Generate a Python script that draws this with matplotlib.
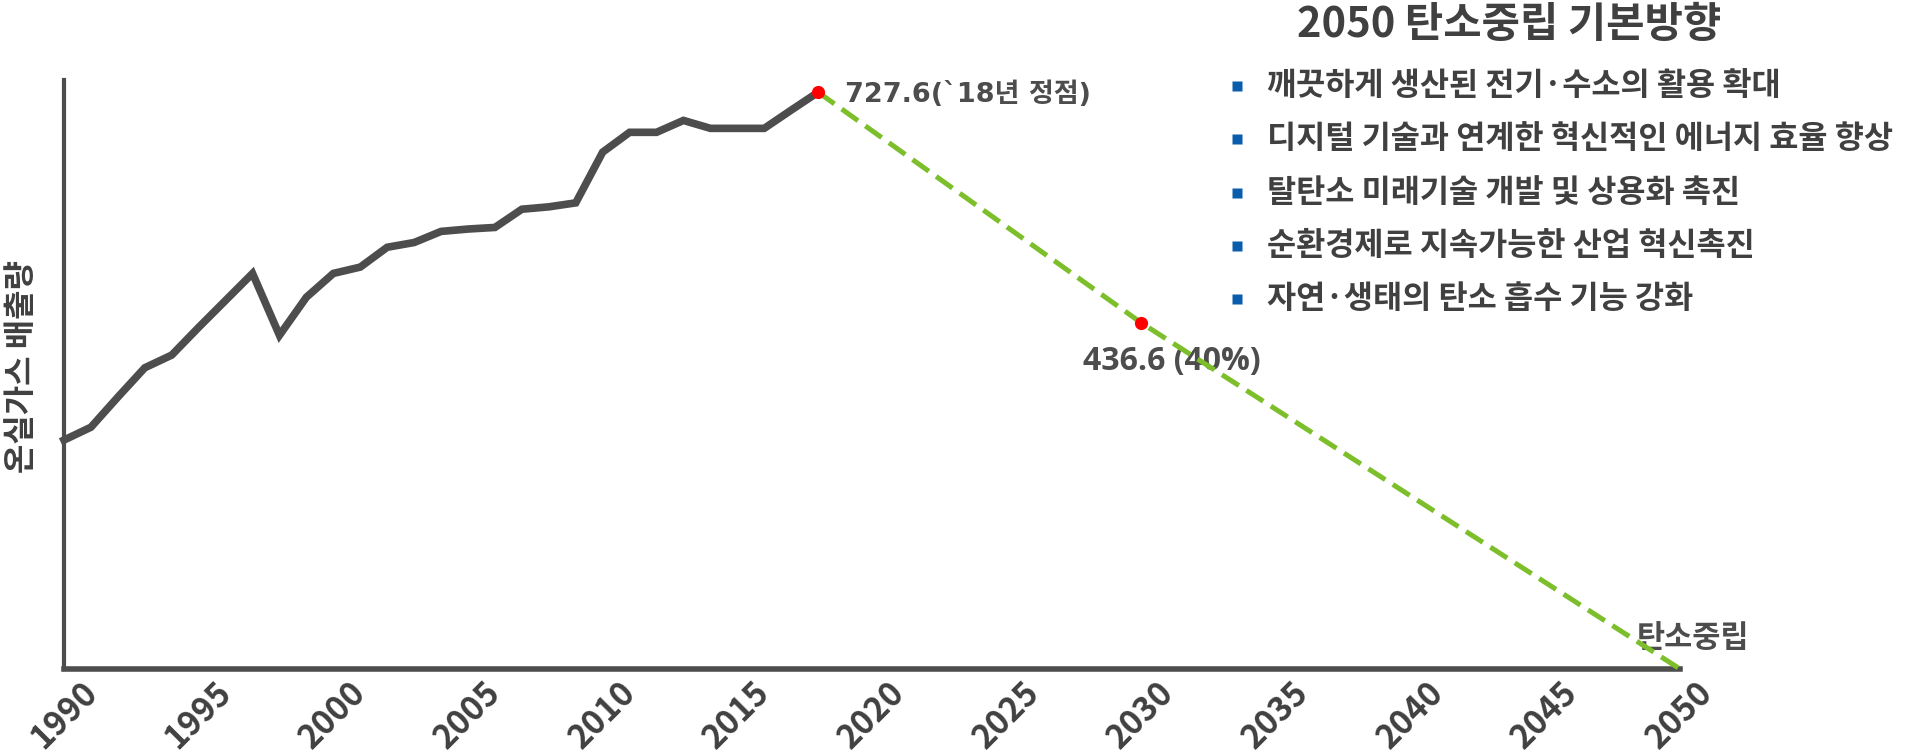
#!/usr/bin/env python
# -*- coding: utf-8 -*-

import matplotlib
matplotlib.use('Agg')
import matplotlib.pyplot as plt
from matplotlib.lines import Line2D

#
# DATA
#

YEARS = list(range(1990, 2019))
EMISSIONS = [288.8, 305.0, 343.0, 380.0, 396.0, 431.0, 465.0, 499.0, 421.0, 469.0,
             499.0, 507.0, 532.0, 538.0, 552.0, 555.0, 557.0, 580.0, 583.0, 588.0,
             652.0, 677.0, 677.0, 692.0, 682.0, 682.0, 682.0, 705.0, 727.6]

TARGET_YEARS = [2018, 2030, 2050]
TARGET_VALUES = [727.6, 436.6, 0.0]

XTICKS = list(range(1990, 2051, 5))

TITLE = '2050 탄소중립 기본방향'
DIRECTIONS = [
    '깨끗하게 생산된 전기·수소의 활용 확대',
    '디지털 기술과 연계한 혁신적인 에너지 효율 향상',
    '탈탄소 미래기술 개발 및 상용화 촉진',
    '순환경제로 지속가능한 산업 혁신촉진',
    '자연·생태의 탄소 흡수 기능 강화',
]

#
# STYLE
#

DARK = '#4d4d4d'
TEXT = '#404040'
GREEN = '#7cbf2a'
BLUE = '#0a5cad'

plt.rcParams['font.family'] = ['Noto Sans CJK KR', 'DejaVu Sans']
plt.rcParams['font.weight'] = 'bold'

fig = plt.figure(figsize=(19.2, 7.54), dpi=100)
ax = fig.add_axes([64 / 1920, 1 - 669 / 754, (1680 - 64) / 1920, (669 - 80) / 754])

# history and pathway to net zero
ax.plot(YEARS, EMISSIONS, color=DARK, lw=5.5, solid_joinstyle='miter', zorder=3, clip_on=False)
ax.plot(TARGET_YEARS, TARGET_VALUES, color=GREEN, lw=3.6, dashes=(4, 1.8), zorder=4, clip_on=False)
ax.plot(TARGET_YEARS[:2], TARGET_VALUES[:2], 'o', color='#ff0000', ms=9.5, mec='none', zorder=5,
        clip_on=False)

ax.set_xlim(1990, 2050)
ax.set_ylim(0, 743)

for side in ('top', 'right'):
    ax.spines[side].set_visible(False)
ax.spines['left'].set_color(DARK)
ax.spines['left'].set_linewidth(3)
ax.spines['bottom'].set_color(DARK)
ax.spines['bottom'].set_linewidth(4)
ax.spines['bottom'].set_zorder(2)

ax.set_yticks([])
ax.set_xticks(XTICKS)
ax.set_xticklabels([str(y) for y in XTICKS], rotation=45, ha='center', va='top',
                   fontsize=24, fontweight='heavy', color=TEXT)
ax.tick_params(axis='x', length=0, pad=5)

fig.text(22 / 1920, 1 - 367 / 754, '온실가스 배출량', rotation=90, ha='center', va='center',
         fontsize=23, fontweight='heavy', color=TEXT)

#
# ANNOTATIONS
#

ax.annotate('727.6(`18년 정점)', (TARGET_YEARS[0], TARGET_VALUES[0]), xytext=(19, -2),
            textcoords='offset points', ha='left', va='center', fontsize=19.5, fontweight='heavy',
            color=DARK, family=['DejaVu Sans', 'Noto Sans CJK KR'])
ax.annotate('436.6 (40%)', (TARGET_YEARS[1], TARGET_VALUES[1]), xytext=(22, -28),
            textcoords='offset points', ha='center', va='center', fontsize=23, fontweight='bold',
            color=DARK, family=['Open Sans', 'DejaVu Sans'])
ax.annotate('탄소중립', (TARGET_YEARS[2], TARGET_VALUES[2]), xytext=(9, 22),
            textcoords='offset points', ha='center', va='center', fontsize=22, fontweight='heavy',
            color=DARK)

#
# DIRECTIONS PANEL
#

fig.text(1509 / 1920, 1 - 25 / 754, TITLE, ha='center', va='center', fontsize=30, fontweight='heavy',
         color=TEXT)

for i, line in enumerate(DIRECTIONS):
    y = 1 - (86 + i * 53.3) / 754
    fig.add_artist(Line2D([1237 / 1920], [y], marker='s', ms=7, color=BLUE, mec='none',
                          transform=fig.transFigure))
    fig.text(1267 / 1920, y, line, ha='left', va='center', fontsize=22.8, fontweight='heavy', color=TEXT)

fig.savefig('out.png', dpi=100, facecolor='white')
